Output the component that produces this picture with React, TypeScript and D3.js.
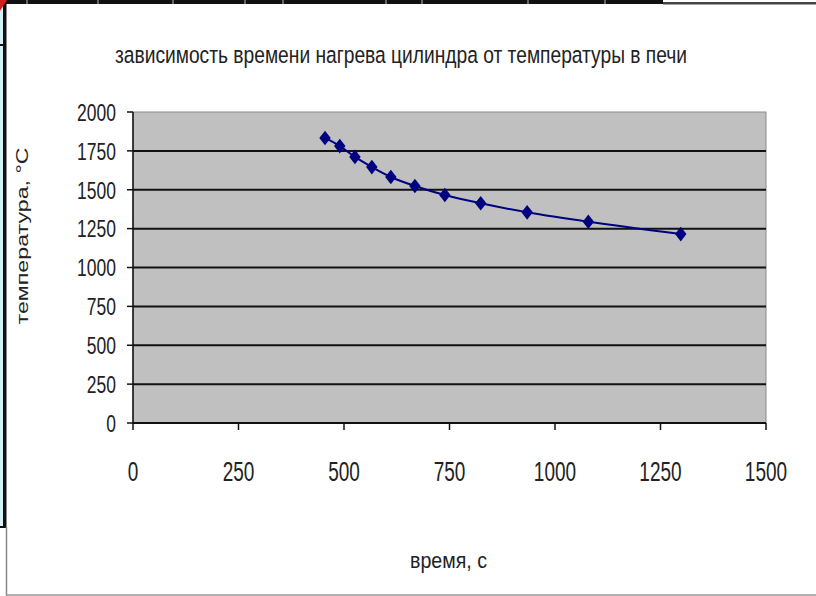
import React from "react";
import * as d3 from "d3";

const titleText = "зависимость времени нагрева цилиндра от температуры в печи";
const xAxisTitle = "время, с";
const yAxisTitle = "температура, °C";

const timeValues = [455, 490, 526, 566, 611, 668, 739, 824, 934, 1079, 1298];
const tempValues = [1833, 1781, 1711, 1646, 1582, 1524, 1466, 1413, 1355, 1294, 1215];

const xTicks = [0, 250, 500, 750, 1000, 1250, 1500];
const yTicks = [0, 250, 500, 750, 1000, 1250, 1500, 1750, 2000];
const gridValues = [250, 500, 750, 1000, 1250, 1500, 1750];
const cellSeparators = [27, 98, 173, 245, 283, 386, 422, 528, 605];

const W = 816;
const H = 596;
const PL = 133, PR = 766, PT = 112, PB = 423;
const FONT = "'Liberation Sans', Arial, sans-serif";
const TXT = "#222";

export default function App() {
  const x = d3.scaleLinear().domain([0, 1500]).range([PL, PR]);
  const y = d3.scaleLinear().domain([0, 2000]).range([PB, PT]);
  const pts: [number, number][] = timeValues.map((t, i) => [t, tempValues[i]]);
  const line = d3
    .line<[number, number]>()
    .x((d) => x(d[0]))
    .y((d) => y(d[1]))
    .curve(d3.curveCatmullRom.alpha(0.5));
  const diamond = d3.symbol().type(d3.symbolDiamond).size(62)() as string;

  return (
    <svg
      width={W}
      height={H}
      style={{ position: "absolute", left: 0, top: 0, background: "#fff" }}
    >
      {/* spreadsheet decorations */}
      <rect x={0} y={0} width={W} height={H} fill="#fff" />
      <rect x={0} y={0} width={3} height={527} fill="#d6f1f3" />
      <rect x={3} y={0} width={3.5} height={527} fill="#111" />
      <rect x={0} y={44} width={6} height={2} fill="#111" />
      <rect x={0} y={526} width={6} height={2} fill="#111" />
      <line x1={6.5} y1={527} x2={6.5} y2={H} stroke="#888" strokeWidth={1.5} />
      <rect x={0} y={0} width={663} height={4} fill="#111" />
      <rect x={663} y={2} width={W - 663} height={2.5} fill="#444" />
      {cellSeparators.map((cx) => (
        <line key={cx} x1={cx} y1={0} x2={cx} y2={4} stroke="#bbb" strokeWidth={1} />
      ))}
      <path d="M0,0 L7,0 L0,11 Z" fill="#d02020" />
      <line x1={6} y1={595} x2={W} y2={595} stroke="#999" strokeWidth={1.5} />

      {/* plot area */}
      <rect x={PL} y={PT} width={PR - PL} height={PB - PT} fill="#c0c0c0" stroke="#8a8a8a" strokeWidth={1} />
      {gridValues.map((v) => (
        <line key={v} x1={PL} x2={PR} y1={y(v)} y2={y(v)} stroke="#111" strokeWidth={2} />
      ))}
      {/* axes */}
      <line x1={PL} x2={PL} y1={PT} y2={PB + 1} stroke="#111" strokeWidth={1.5} />
      <line x1={PL} x2={PR} y1={PB} y2={PB} stroke="#111" strokeWidth={2} />
      {yTicks.map((v) => (
        <line key={"yt" + v} x1={PL - 6} x2={PL} y1={y(v)} y2={y(v)} stroke="#111" strokeWidth={1.5} />
      ))}
      {xTicks.map((v) => (
        <line key={"xt" + v} x1={x(v)} x2={x(v)} y1={PB} y2={PB + 7} stroke="#111" strokeWidth={1.5} />
      ))}

      {/* y tick labels */}
      {yTicks.map((v) => (
        <g key={"yl" + v} transform={`translate(${PL - 17},${y(v)}) scale(1,1.4)`}>
          <text x={0} y={0} dy="0.36em" textAnchor="end" fontFamily={FONT} fontSize={17.5} fill={TXT}>
            {v}
          </text>
        </g>
      ))}
      {/* x tick labels */}
      {xTicks.map((v) => (
        <g key={"xl" + v} transform={`translate(${x(v)},${471}) scale(1,1.5)`}>
          <text x={0} y={0} dy="0.36em" textAnchor="middle" fontFamily={FONT} fontSize={19} fill={TXT}>
            {v}
          </text>
        </g>
      ))}

      {/* series */}
      <path d={line(pts) || ""} fill="none" stroke="#000080" strokeWidth={2} />
      {pts.map((d, i) => (
        <path
          key={"m" + i}
          d={diamond}
          transform={`translate(${x(d[0])},${y(d[1])}) scale(1.35,1)`}
          fill="#000080"
        />
      ))}

      {/* titles */}
      <g transform={`translate(${401},${63}) scale(1,1.35)`}>
        <text
          x={0}
          y={0}
          textAnchor="middle"
          fontFamily={FONT}
          fontSize={18}
          fill={TXT}
          textLength={572}
          lengthAdjust="spacingAndGlyphs"
        >
          {titleText}
        </text>
      </g>
      <g transform={`translate(${448.5},${568}) scale(1,1.35)`}>
        <text
          x={0}
          y={0}
          textAnchor="middle"
          fontFamily={FONT}
          fontSize={17}
          fill={TXT}
          textLength={77}
          lengthAdjust="spacingAndGlyphs"
        >
          {xAxisTitle}
        </text>
      </g>
      <g transform={`translate(${28},${236}) scale(1,1.33) rotate(-90)`}>
        <text
          x={0}
          y={0}
          textAnchor="middle"
          fontFamily={FONT}
          fontSize={16.5}
          fill={TXT}
          textLength={133}
          lengthAdjust="spacingAndGlyphs"
        >
          {yAxisTitle}
        </text>
      </g>
    </svg>
  );
}
